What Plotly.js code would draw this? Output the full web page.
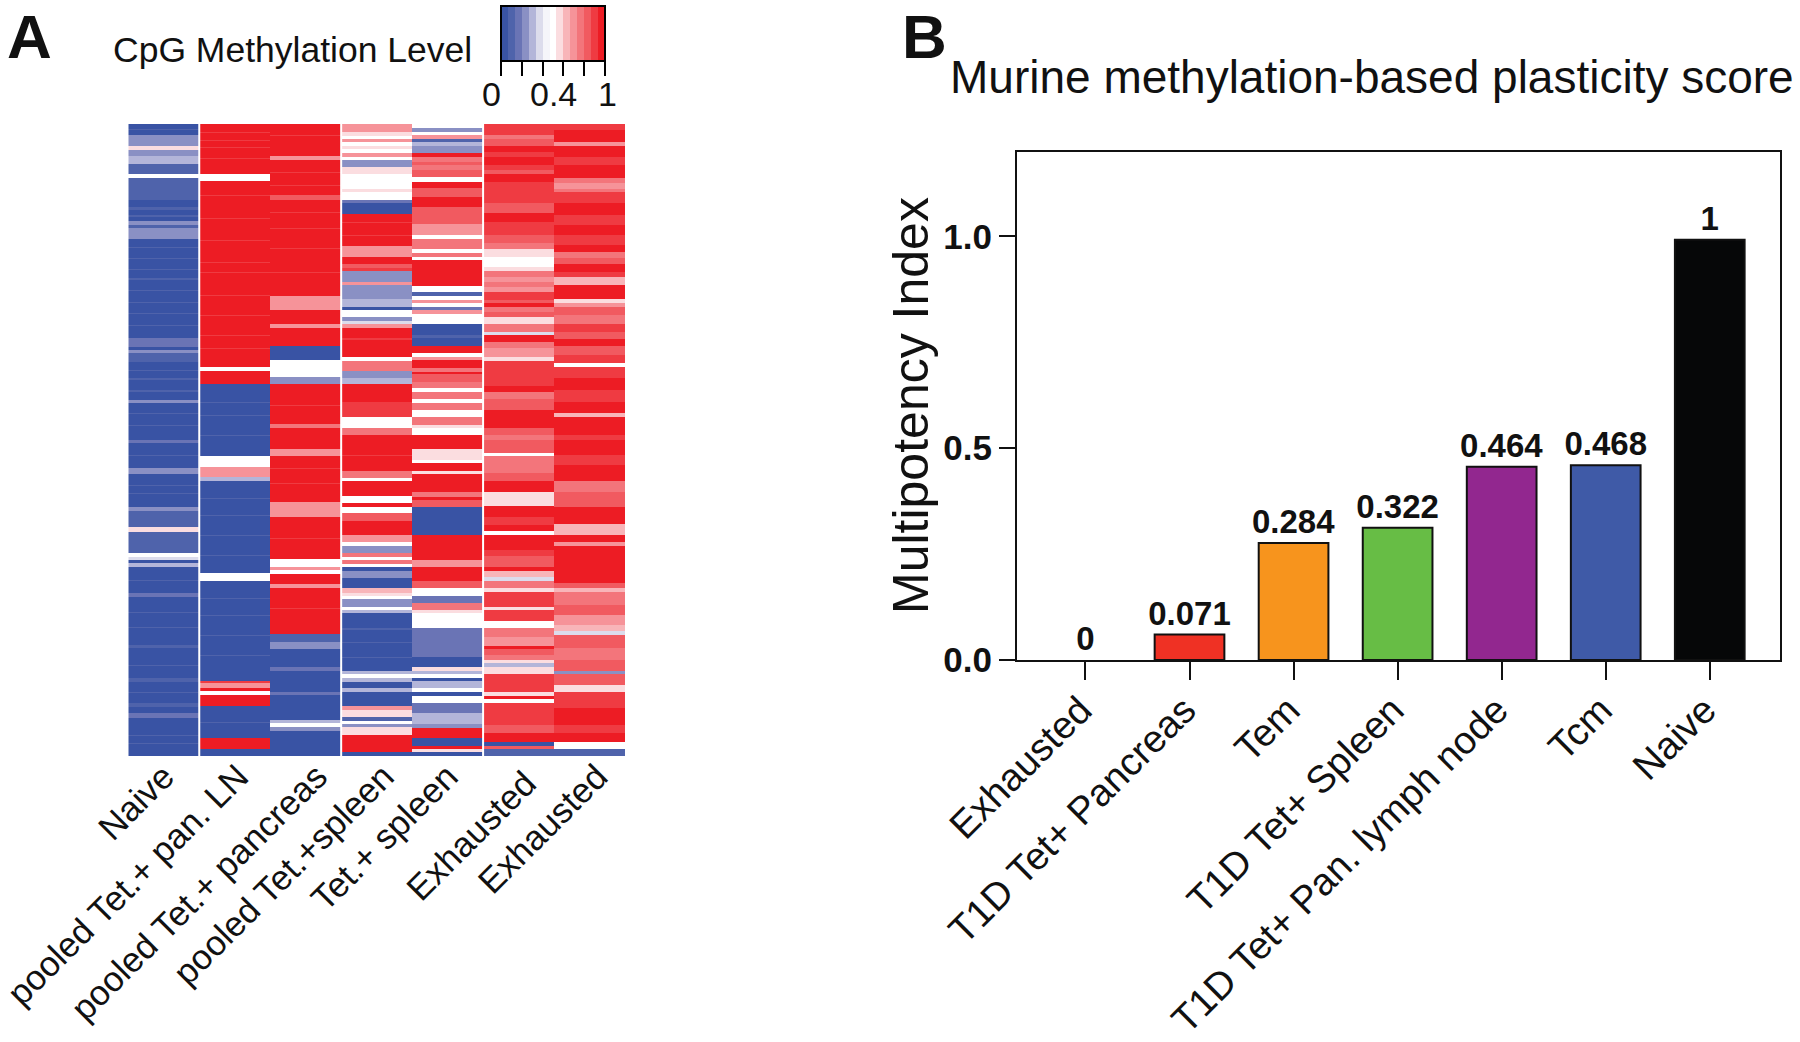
<!DOCTYPE html>
<html><head><meta charset="utf-8">
<script src="https://cdn.plot.ly/plotly-3.0.1.min.js"></script>
<style>html,body{margin:0;padding:0;background:#fff}#c{width:1800px;height:1042px}</style>
</head><body><div id="c"></div>
<script>
// Panel A: each column is a list of [last row of the run, methylation level]
const heatColumns = ['Naive','pooled Tet.+ pan. LN','pooled Tet.+ pancreas','pooled Tet.+spleen','Tet.+ spleen','Exhausted ','Exhausted'];
const labelAnchors = [0.5,1.55,2.66,3.6,4.5,5.7,6.61];
const firstRow = 27, lastRow = 1923;
const naive = [[42,.05],[45,.1],[60,.05],[72,.24],[75,.2],[93,.24],[104,.55],[122,.25],[147,.3],[178,.1],[190,.5],[205,.13],[208,.08],[225,.13],[240,.1],[255,.13],[275,.04],[285,.1],[300,.05],[305,.13],[317,.03],[330,.22],[340,.1],[372,.25],[395,.03],[398,.08],[430,.03],[433,.08],[462,.04],[466,.08],[490,.03],[494,.1],[525,.03],[528,.08],[560,.03],[563,.08],[595,.03],[598,.08],[630,.03],[634,.08],[670,.03],[695,.17],[705,.05],[715,.2],[740,.1],[765,.04],[768,.08],[790,.04],[794,.1],[825,.04],[830,.08],[855,.04],[865,.22],[895,.03],[898,.08],[930,.03],[934,.08],[975,.04],[985,.17],[1020,.04],[1023,.08],[1058,.04],[1078,.25],[1110,.04],[1113,.08],[1135,.04],[1138,.08],[1175,.04],[1187,.2],[1237,.08],[1250,.58],[1315,.08],[1325,.5],[1335,.38],[1345,.03],[1355,.28],[1395,.04],[1398,.1],[1435,.04],[1445,.14],[1490,.04],[1493,.08],[1535,.04],[1538,.08],[1590,.04],[1600,.13],[1650,.04],[1653,.08],[1690,.04],[1700,.13],[1730,.04],[1733,.08],[1765,.04],[1775,.12],[1795,.04],[1810,.17],[1860,.04],[1863,.08],[1885,.04],[1888,.08],[1923,.04]];
const poolLN = [[50,.98],[53,.92],[75,.98],[78,.92],[95,.98],[98,.92],[130,.98],[133,.92],[178,.98],[198,.5],[240,.98],[243,.92],[310,.98],[313,.92],[375,.98],[378,.92],[440,.98],[443,.92],[470,.98],[473,.92],[540,.98],[543,.92],[600,.98],[603,.92],[660,.98],[663,.92],[700,.98],[703,.92],[755,.98],[767,.5],[808,.98],[860,.03],[863,.08],[900,.03],[903,.08],[960,.03],[963,.08],[1023,.03],[1055,.5],[1087,.68],[1097,.3],[1150,.03],[1153,.08],[1200,.03],[1203,.08],[1260,.03],[1263,.08],[1320,.03],[1323,.1],[1375,.03],[1398,.5],[1450,.03],[1453,.08],[1500,.03],[1503,.08],[1560,.03],[1563,.08],[1620,.03],[1623,.08],[1697,.03],[1705,.9],[1720,.72],[1728,.98],[1740,.5],[1772,.98],[1820,.03],[1823,.08],[1870,.03],[1902,.98],[1923,.03]];
const poolPanc = [[60,.98],[63,.92],[123,.98],[135,.7],[170,.98],[173,.92],[210,.98],[213,.92],[240,.98],[255,.86],[290,.98],[293,.92],[340,.98],[343,.92],[400,.98],[403,.92],[470,.98],[473,.92],[542,.98],[585,.7],[627,.98],[638,.7],[692,.98],[735,.03],[787,.5],[808,.22],[870,.98],[873,.92],[928,.98],[938,.75],[1002,.98],[1023,.7],[1060,.98],[1063,.92],[1105,.98],[1108,.92],[1162,.98],[1207,.72],[1270,.98],[1273,.92],[1333,.98],[1355,.5],[1365,.7],[1377,.5],[1408,.98],[1420,.72],[1480,.98],[1483,.92],[1558,.98],[1580,.1],[1602,.22],[1655,.04],[1667,.15],[1730,.05],[1740,.15],[1815,.04],[1825,.3],[1837,.5],[1847,.2],[1923,.04]];
const poolSpleen = [[50,.7],[62,.55],[72,.52],[82,.7],[93,.5],[103,.55],[115,.5],[125,.72],[135,.5],[157,.23],[178,.58],[222,.5],[232,.56],[254,.5],[265,.17],[298,.03],[320,.98],[324,.88],[360,.98],[364,.9],[393,.98],[425,.72],[447,.98],[458,.8],[468,.9],[500,.23],[510,.7],[553,.23],[575,.33],[585,.05],[607,.5],[617,.2],[628,.38],[640,.7],[670,.98],[674,.9],[725,.98],[737,.5],[767,.78],[790,.23],[808,.33],[862,.98],[905,.92],[938,.5],[960,.78],[1020,.98],[1024,.9],[1067,.98],[1088,.78],[1098,.5],[1142,.98],[1163,.5],[1175,.98],[1195,.5],[1217,.8],[1260,.98],[1282,.72],[1292,.5],[1315,.23],[1325,.75],[1335,.5],[1347,.75],[1357,.5],[1367,.05],[1390,.25],[1420,.03],[1433,.65],[1443,.55],[1453,.5],[1475,.2],[1485,.5],[1495,.3],[1540,.03],[1544,.08],[1580,.03],[1584,.1],[1625,.03],[1629,.08],[1667,.03],[1678,.3],[1688,.5],[1700,.3],[1720,.04],[1732,.3],[1772,.05],[1785,.7],[1807,.56],[1817,.1],[1827,.5],[1837,.25],[1860,.58],[1912,.98],[1923,.03]];
const tetSpleen = [[40,.5],[50,.23],[60,.5],[72,.72],[82,.12],[92,.33],[115,.23],[125,.98],[140,.78],[150,.86],[165,.74],[187,.8],[200,.5],[220,.98],[245,.84],[275,.98],[300,.84],[328,.8],[360,.72],[372,.5],[403,.77],[415,.5],[425,.75],[436,.5],[512,.98],[532,.5],[543,.12],[555,.5],[565,.7],[575,.5],[585,.17],[597,.7],[628,.5],[660,.03],[670,.12],[692,.04],[713,.98],[725,.5],[735,.7],[758,.98],[770,.78],[778,.98],[800,.82],[820,.76],[832,.5],[853,.74],[863,.5],[885,.74],[905,.5],[930,.74],[938,.55],[960,.5],[1002,.98],[1035,.55],[1045,.5],[1067,.98],[1078,.55],[1130,.98],[1145,.76],[1155,.98],[1175,.82],[1260,.03],[1335,.98],[1357,.72],[1398,.98],[1420,.8],[1442,.5],[1465,.17],[1485,.75],[1495,.55],[1538,.5],[1580,.14],[1600,.17],[1625,.14],[1657,.04],[1667,.58],[1678,.27],[1688,.5],[1698,.05],[1720,.27],[1732,.5],[1742,.05],[1763,.5],[1795,.18],[1828,.3],[1838,.23],[1860,.95],[1870,.98],[1892,.04],[1902,.98],[1912,.55],[1923,.03]];
const exhaustedA = [[45,.87],[60,.93],[72,.76],[93,.86],[110,.95],[125,.9],[150,.97],[165,.92],[178,.8],[200,.97],[215,.88],[225,.93],[263,.92],[295,.84],[320,.97],[340,.93],[360,.88],[385,.82],[403,.76],[425,.56],[457,.5],[467,.56],[485,.78],[500,.7],[515,.76],[532,.68],[555,.88],[565,.84],[575,.98],[590,.76],[605,.8],[628,.58],[650,.76],[660,.36],[682,.97],[700,.76],[725,.7],[737,.56],[770,.88],[812,.87],[832,.97],[853,.74],[885,.86],[910,.98],[938,.95],[960,.86],[975,.76],[1013,.82],[1023,.5],[1050,.78],[1075,.76],[1098,.85],[1130,.96],[1173,.55],[1207,.97],[1230,.88],[1248,.94],[1260,.5],[1290,.95],[1305,.98],[1323,.92],[1355,.8],[1367,.98],[1387,.62],[1398,.36],[1420,.78],[1432,.55],[1475,.88],[1485,.55],[1518,.92],[1538,.52],[1565,.76],[1592,.72],[1603,.98],[1620,.84],[1635,.78],[1645,.58],[1657,.3],[1678,.55],[1705,.92],[1732,.88],[1742,.55],[1752,.98],[1763,.5],[1800,.88],[1830,.93],[1855,.86],[1880,.96],[1892,.04],[1902,.82],[1923,.08]];
const exhaustedB = [[45,.87],[62,.94],[82,.98],[93,.7],[125,.97],[150,.92],[188,.97],[205,.74],[222,.68],[232,.76],[265,.92],[300,.98],[330,.93],[360,.97],[390,.9],[412,.95],[430,.76],[447,.82],[470,.95],[487,.9],[510,.65],[530,.95],[553,.98],[565,.56],[575,.7],[600,.8],[627,.76],[650,.88],[672,.84],[692,.98],[720,.82],[745,.88],[757,.52],[790,.93],[825,.97],[860,.92],[895,.96],[905,.62],[960,.96],[975,.92],[1020,.97],[1050,.88],[1098,.94],[1130,.78],[1150,.86],[1175,.82],[1205,.97],[1227,.95],[1260,.65],[1280,.97],[1293,.7],[1330,.94],[1380,.97],[1405,.94],[1420,.82],[1432,.6],[1470,.78],[1500,.84],[1530,.72],[1548,.66],[1560,.36],[1600,.86],[1635,.78],[1667,.82],[1678,.22],[1710,.84],[1732,.57],[1780,.88],[1830,.96],[1855,.88],[1880,.96],[1902,.5],[1923,.1]];
const heatRuns = [naive, poolLN, poolPanc, poolSpleen, tetSpleen, exhaustedA, exhaustedB];
const groupGaps = [1, 3, 5];
const paletteBands = ['#3953a4','#4f63ab','#6a74b5','#8a90c4','#b3b5d9','#dcdcec','#f5f5fa','#ffffff','#fbdde0','#f8b5b9','#f69399','#f3757b','#f15a60','#ef3b42','#ed1c24'];
const legendTicks = [0,0.2,0.4,0.6,0.8,1];

// Panel B
const cellTypes = ['Exhausted','T1D Tet+ Pancreas','Tem','T1D Tet+ Spleen','T1D Tet+ Pan. lymph node','Tcm','Naive'];
const indexHeights = [0,0.06,0.276,0.312,0.456,0.46,0.992];
const indexLabels = ['0','0.071','0.284','0.322','0.464','0.468','1'];
const barColors = ['#ffffff','#ef3124','#f7941d','#67bd45','#92278f','#3f5aa7','#060708'];
const barEdges = [0,2,2,2,2,2,2];

const FONT = 'Liberation Sans, Arial, sans-serif';
const W = 1800, H = 1042;
const dx = (a,b) => [a/W, b/W];
const dy = (top,bottom) => [1-bottom/H, 1-top/H];

const rows = [];
for (let r = firstRow; r < lastRow; r++) rows.push(r + 0.5);
const z = rows.map(r => heatRuns.map(col => col.find(run => r <= run[0])[1]));

const n = paletteBands.length, scale = [];
paletteBands.forEach((c,i) => { scale.push([i/n,c]); scale.push([(i+1)/n,c]); });

const heat = {
  type:'heatmap', x:[0.5,1.5,2.5,3.5,4.5,5.5,6.5], y:rows, z:z, xaxis:'x', yaxis:'y',
  zmin:0, zmax:1, colorscale:scale,
  colorbar:{orientation:'h', lenmode:'pixels', len:104, thicknessmode:'pixels', thickness:55,
    x:501/W, xanchor:'left', y:1-6/H, yanchor:'top', xpad:0, ypad:0,
    outlinecolor:'#000', outlinewidth:2, ticks:'outside', ticklen:14, tickwidth:2, tickcolor:'#000',
    tickmode:'array', tickvals:legendTicks, ticktext:legendTicks.map(()=>''), tickfont:{family:FONT,size:8}}
};
const bars = {
  type:'bar', x:[0,1,2,3,4,5,6], y:indexHeights, xaxis:'x2', yaxis:'y2', width:0.67,
  marker:{color:barColors, line:{color:'#111',width:barEdges}},
  text:indexLabels, textposition:'outside', cliponaxis:false, constraintext:'none',
  textfont:{family:FONT,size:33,color:'#111',weight:'bold'}
};
const note = (text,x,y,size,bold,anchor) => ({text:bold?'<b>'+text+'</b>':text, xref:'paper', yref:'paper',
  x:x/W, y:1-y/H, xanchor:anchor||'left', yanchor:'middle', showarrow:false, font:{family:FONT,size:size,color:'#111'}});

const layout = {
  width:W, height:H, margin:{l:0,r:0,t:0,b:0}, paper_bgcolor:'#fff', plot_bgcolor:'#fff', showlegend:false,
  xaxis:{domain:dx(128.3,625), range:[0,7], tickmode:'array', tickvals:labelAnchors, ticktext:heatColumns,
    tickangle:-45, ticks:'', ticklen:0, ticklabelstandoff:-8, ticklabeloverflow:'allow', showgrid:false, zeroline:false, showline:false,
    tickfont:{family:FONT,size:35,color:'#111'}},
  yaxis:{domain:dy(124,756), range:[lastRow,firstRow], showticklabels:false, ticks:'', showgrid:false, zeroline:false, showline:false},
  xaxis2:{domain:dx(1017,1780), anchor:'y2', range:[-0.658,6.675], tickmode:'array', tickvals:[0,1,2,3,4,5,6], ticktext:cellTypes,
    tickangle:-45, ticks:'outside', ticklen:18, tickwidth:2, tickcolor:'#111', showline:true, linecolor:'#111', linewidth:2, mirror:true,
    ticklabelstandoff:-8, ticklabelshift:-5, ticklabeloverflow:'allow',
    showgrid:false, zeroline:false, tickfont:{family:FONT,size:38.5,color:'#111'}},
  yaxis2:{domain:dy(151.7,660), anchor:'x2', range:[0,1.2], tickmode:'array', tickvals:[0,0.5,1], ticktext:['0.0','0.5','1.0'],
    ticks:'outside', ticklen:16, tickwidth:2, tickcolor:'#111', showline:true, linecolor:'#111', linewidth:2, mirror:true,
    showgrid:false, zeroline:false, tickfont:{family:FONT,size:35,color:'#111',weight:'bold'}},
  shapes: groupGaps.map(g => ({type:'line', xref:'x', yref:'paper', x0:g, x1:g, y0:dy(124,756)[0], y1:dy(124,756)[1], line:{color:'#fff',width:2}})),
  annotations:[
    note('A',5,37,62,true),
    note('B',900,37,62,true),
    note('CpG Methylation Level',111,50,35.5,false),
    note('Murine methylation-based plasticity score',948,77,46,false),
    note('0',492,94,34,false,'center'),
    note('0.4',553,94,34,false,'center'),
    note('1',607,94,34,false,'center'),
    {text:'Multipotency Index', xref:'paper', yref:'paper', x:911/W, y:1-405/H, textangle:-90, xanchor:'center', yanchor:'middle',
      showarrow:false, font:{family:FONT,size:50,color:'#111'}}
  ]
};
Plotly.newPlot('c',[heat,bars],layout,{displayModeBar:false,staticPlot:true});
</script></body></html>
